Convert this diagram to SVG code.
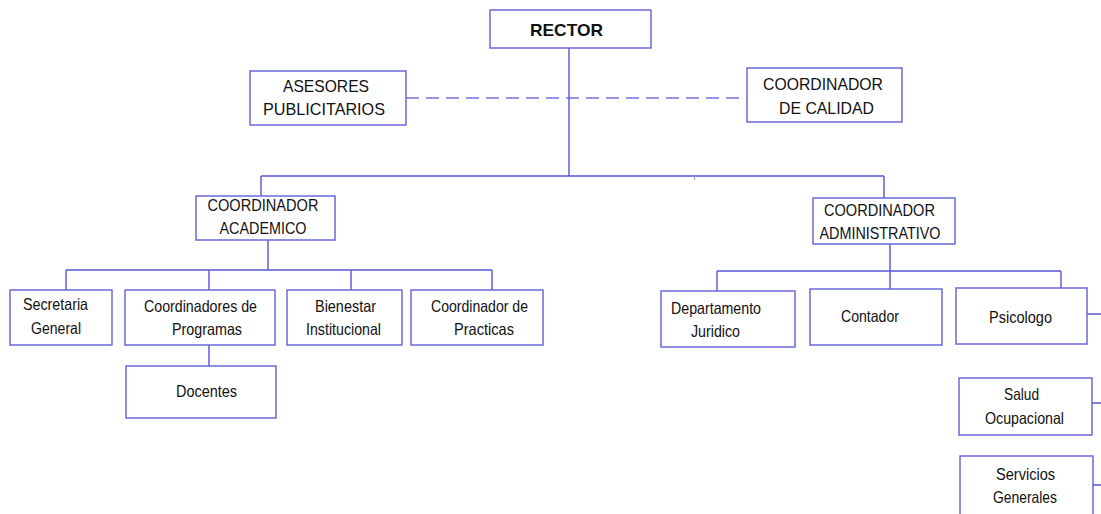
<svg xmlns="http://www.w3.org/2000/svg" width="1101" height="514" viewBox="0 0 1101 514">
<style>
.b{fill:#fff;stroke:#5f5fd8;stroke-width:1.4}
.c{fill:none;stroke:#5555d8;stroke-width:1.4}
.d{fill:none;stroke:#7070dc;stroke-width:1.6;stroke-dasharray:13 7}
text{font-family:"Liberation Sans",Arial,sans-serif;font-size:16.5px;fill:#111;text-anchor:middle}
.t{font-weight:bold;font-size:17px}
</style>
<rect width="1101" height="514" fill="#fff"/>
<g id="connectors">
<path class="d" d="M406 98H747"/>
<path class="c" d="M569 48V176M261 176H884M261 176V196M884 176V199"/>
<path d="M694.5 177V180" stroke="#9a9ae6" stroke-width="1"/>
<path class="c" d="M268 240V270M66 270H492M66 270V290M209 270V290M351 270V290M492 270V290M209 345V366"/>
<path class="c" d="M890 244V271M717 271H1061M717 271V291M890 271V289M1061 271V288"/>
<path class="c" d="M1087 314H1101M1092 403H1101M1093 485H1101"/>
</g>
<g id="rector"><rect class="b" x="490" y="10" width="161" height="38"/><text class="t" x="566.5" y="36" textLength="73" lengthAdjust="spacingAndGlyphs">RECTOR</text></g>
<g id="asesores"><rect class="b" x="250" y="71" width="156" height="54"/><text x="326" y="92" textLength="86" lengthAdjust="spacingAndGlyphs">ASESORES</text><text x="324" y="115" textLength="122" lengthAdjust="spacingAndGlyphs">PUBLICITARIOS</text></g>
<g id="calidad"><rect class="b" x="747" y="68" width="155" height="54"/><text x="823" y="90" textLength="120" lengthAdjust="spacingAndGlyphs">COORDINADOR</text><text x="826.5" y="114" textLength="95" lengthAdjust="spacingAndGlyphs">DE CALIDAD</text></g>
<g id="academico"><rect class="b" x="196" y="196" width="139" height="44"/><text x="263" y="211" textLength="111" lengthAdjust="spacingAndGlyphs">COORDINADOR</text><text x="263" y="234" textLength="87" lengthAdjust="spacingAndGlyphs">ACADEMICO</text></g>
<g id="administrativo"><rect class="b" x="813" y="198" width="142" height="46"/><text x="879.5" y="216" textLength="111" lengthAdjust="spacingAndGlyphs">COORDINADOR</text><text x="880" y="239" textLength="121" lengthAdjust="spacingAndGlyphs">ADMINISTRATIVO</text></g>
<g id="secretaria"><rect class="b" x="10" y="290" width="102" height="55"/><text x="55.5" y="310" textLength="65" lengthAdjust="spacingAndGlyphs">Secretaria</text><text x="56" y="334" textLength="50" lengthAdjust="spacingAndGlyphs">General</text></g>
<g id="programas"><rect class="b" x="125" y="290" width="150" height="55"/><text x="200.5" y="312" textLength="113" lengthAdjust="spacingAndGlyphs">Coordinadores de</text><text x="207" y="335" textLength="70" lengthAdjust="spacingAndGlyphs">Programas</text></g>
<g id="bienestar"><rect class="b" x="287" y="290" width="115" height="55"/><text x="345.5" y="312" textLength="61" lengthAdjust="spacingAndGlyphs">Bienestar</text><text x="343.5" y="335" textLength="75" lengthAdjust="spacingAndGlyphs">Institucional</text></g>
<g id="practicas"><rect class="b" x="411" y="290" width="132" height="55"/><text x="479.5" y="312" textLength="97" lengthAdjust="spacingAndGlyphs">Coordinador de</text><text x="484" y="335" textLength="60" lengthAdjust="spacingAndGlyphs">Practicas</text></g>
<g id="docentes"><rect class="b" x="126" y="366" width="150" height="52"/><text x="206.5" y="397" textLength="61" lengthAdjust="spacingAndGlyphs">Docentes</text></g>
<g id="juridico"><rect class="b" x="661" y="291" width="134" height="56"/><text x="716" y="314" textLength="90" lengthAdjust="spacingAndGlyphs">Departamento</text><text x="715.5" y="337" textLength="49" lengthAdjust="spacingAndGlyphs">Juridico</text></g>
<g id="contador"><rect class="b" x="810" y="289" width="132" height="56"/><text x="870" y="322" textLength="58" lengthAdjust="spacingAndGlyphs">Contador</text></g>
<g id="psicologo"><rect class="b" x="956" y="288" width="131" height="56"/><text x="1020.5" y="323" textLength="63" lengthAdjust="spacingAndGlyphs">Psicologo</text></g>
<g id="salud"><rect class="b" x="959" y="378" width="133" height="57"/><text x="1021.5" y="400" textLength="35" lengthAdjust="spacingAndGlyphs">Salud</text><text x="1024.5" y="424" textLength="79" lengthAdjust="spacingAndGlyphs">Ocupacional</text></g>
<g id="servicios"><rect class="b" x="960" y="456" width="133" height="62"/><text x="1025.5" y="480" textLength="59" lengthAdjust="spacingAndGlyphs">Servicios</text><text x="1025" y="503" textLength="64" lengthAdjust="spacingAndGlyphs">Generales</text></g>
</svg>
